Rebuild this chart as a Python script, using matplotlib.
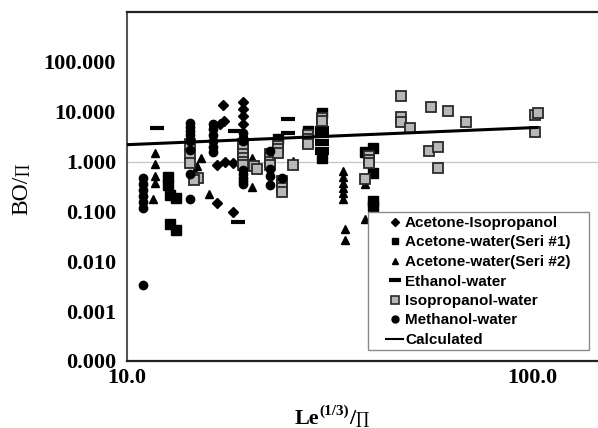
import matplotlib
matplotlib.use("Agg")
import matplotlib.pyplot as plt
from matplotlib.lines import Line2D
from matplotlib.patches import Rectangle

# ---- data -----------------------------------------------------------------
acet_iso_x = [17.3, 17.0, 17.4, 19.3, 19.3, 19.3, 19.3, 16.7, 17.5, 18.3, 16.7, 18.3]
acet_iso_y = [13.7, 5.6, 6.4, 15.5, 11.3, 8.2, 5.6, 0.87, 1.0, 0.95, 0.15, 0.097]

acet_w1_x = [12.6, 12.6, 12.8, 13.2, 12.8, 13.2, 23.6, 28.0, 30.3, 30.3,
             40.5, 38.7, 40.5, 40.5, 40.5]
acet_w1_y = [0.50, 0.34, 0.21, 0.19, 0.055, 0.043, 2.8, 4.06, 9.4, 1.2,
             1.9, 1.55, 0.6, 0.16, 0.13]

acet_w2_x = [11.7, 11.7, 11.7, 11.7, 11.6, 15.2, 14.9, 14.7, 15.9, 20.3, 20.3,
             25.7, 34.1, 34.1, 34.1, 34.1, 34.1, 34.1, 34.5, 34.5, 38.7, 38.7]
acet_w2_y = [1.5, 0.91, 0.52, 0.38, 0.18, 1.2, 0.8, 0.62, 0.22, 1.2, 0.31,
             1.05, 0.65, 0.48, 0.37, 0.30, 0.23, 0.18, 0.045, 0.027, 0.36, 0.072]

eth_x = [11.86, 18.5, 18.8, 25.0, 25.0, 30.3, 30.3, 30.3, 30.3, 30.3, 30.3, 30.3]
eth_y = [4.66, 4.06, 0.061, 7.1, 3.7, 4.7, 3.9, 3.2, 2.6, 2.2, 1.8, 1.5]

iso_x = [47.5, 47.5, 47.5, 50.0, 56.4, 62.1, 68.8, 55.7, 58.6, 58.6, 101.5, 103.5, 102.0,
         14.3, 14.3, 14.3, 15.0, 14.6,
         19.3, 19.3, 19.3, 19.3, 19.3, 19.3, 20.6, 21.0,
         22.5, 22.5, 22.5, 22.5, 24.2, 24.2, 24.2, 24.2,
         23.6, 23.6, 23.6, 28.0, 28.0, 28.0, 28.0, 25.7,
         30.3, 30.3, 39.5, 39.5, 39.5, 38.7]
iso_y = [20.5, 7.8, 6.2, 4.7, 12.5, 10.3, 6.2, 1.6, 1.92, 0.76, 8.4, 9.5, 3.9,
         2.3, 1.45, 0.95, 0.46, 0.42,
         2.2, 1.8, 1.45, 1.2, 1.0, 0.85, 0.8, 0.72,
         1.4, 1.2, 1.0, 0.85, 0.40, 0.34, 0.29, 0.25,
         2.1, 1.75, 1.5, 3.4, 2.9, 2.5, 2.2, 0.86,
         7.5, 6.5, 1.3, 1.1, 0.95, 0.45]

meth_x = [10.95] * 7 + [14.3] * 8 + [16.3] * 6 + [19.3] * 8 + [22.5] * 4 + [24.2]
meth_y = [0.47, 0.36, 0.27, 0.20, 0.155, 0.117, 0.0034,
          5.9, 4.9, 4.1, 3.4, 2.6, 1.7, 0.57, 0.18,
          5.6, 4.4, 3.4, 2.6, 2.0, 1.55,
          3.7, 3.0, 2.6, 0.68, 0.56, 0.46, 0.40, 0.35,
          1.65, 0.72, 0.52, 0.34,
          0.47]

calc_x = [10.0, 103.0]
calc_y = [2.18, 4.83]

ref_level = 1.0

y_ticks = [1e-4, 1e-3, 1e-2, 1e-1, 1, 10, 100]
y_tick_labels = ["0.000", "0.001", "0.010", "0.100", "1.000", "10.000", "100.000"]
x_ticks = [10, 100]
x_tick_labels = ["10.0", "100.0"]

# ---- figure ----------------------------------------------------------------
W, H = 598, 428
fig = plt.figure(figsize=(W / 100, H / 100), dpi=100)
left_px, right_px, top_px, bottom_px = 127, 598, 12, 361
ax = fig.add_axes([left_px / W, 1 - bottom_px / H,
                   (right_px - left_px) / W, (bottom_px - top_px) / H])
ax.set_xscale("log")
ax.set_yscale("log")
ax.set_xlim(10, 145.6)
ax.set_ylim(1e-4, 1000)

ax.axhline(ref_level, color="#c8c8c8", lw=1.0, zorder=1)

ax.plot(acet_iso_x, acet_iso_y, ls="none", marker="D", ms=5, color="black", zorder=3)
ax.plot(acet_w1_x, acet_w1_y, ls="none", marker="s", ms=6.5, color="black", zorder=3)
ax.plot(acet_w2_x, acet_w2_y, ls="none", marker="^", ms=6, color="black", zorder=3)
ax.plot(eth_x, eth_y, ls="none", marker="_", ms=10, mew=3, color="black", zorder=3)
ax.plot(iso_x, iso_y, ls="none", marker="s", ms=7, mfc="#b8b8b8", mec="#2a2a2a",
        mew=1.3, zorder=3)
ax.plot(meth_x, meth_y, ls="none", marker="o", ms=6, color="black", zorder=3)
ax.plot(calc_x, calc_y, color="black", lw=2.2, zorder=4)

serif = ["Liberation Serif", "DejaVu Serif"]
ax.set_yticks(y_ticks)
ax.set_yticklabels(y_tick_labels, fontfamily=serif, fontweight="bold", fontsize=16)
ax.set_xticks(x_ticks)
ax.set_xticklabels(x_tick_labels, fontfamily=serif, fontweight="bold", fontsize=16)
ax.minorticks_off()
ax.tick_params(axis="both", length=0)
ax.tick_params(axis="y", pad=8)
ax.tick_params(axis="x", pad=5)

ax.spines["right"].set_visible(False)
ax.spines["left"].set_color("#555555")
ax.spines["left"].set_linewidth(1.5)
for s in ("top", "bottom"):
    ax.spines[s].set_color("#222222")
    ax.spines[s].set_linewidth(1.6)

# y-axis title: "BO/" plus a smaller product sign above it
fig.text(22 / W, 1 - 176 / H, "BO/", rotation=90, ha="center", va="top",
         fontfamily=serif, fontsize=17)
fig.text(23 / W, 1 - 176 / H, "\u220f", rotation=90, ha="center", va="bottom",
         fontfamily=["DejaVu Serif"], fontsize=11)

# x-axis title built from pieces so the superscript and product sign sit right
base_y = 1 - 424 / H
t1 = fig.text(295 / W, base_y, "Le", ha="left", va="baseline",
              fontfamily=serif, fontweight="bold", fontsize=16)
fig.canvas.draw()
r = fig.canvas.get_renderer()
bb = t1.get_window_extent(r)
t2 = fig.text(bb.x1 / W, base_y + 9 / H, "(1/3)", ha="left", va="baseline",
              fontfamily=serif, fontweight="bold", fontsize=11)
bb = t2.get_window_extent(r)
t3 = fig.text(bb.x1 / W, base_y, "/", ha="left", va="baseline",
              fontfamily=serif, fontweight="bold", fontsize=16)
bb = t3.get_window_extent(r)
fig.text(bb.x1 / W, base_y, "\u220f", ha="left", va="baseline",
         fontfamily=["DejaVu Serif"], fontsize=12)

# legend box
fig.add_artist(Rectangle((368 / W, 1 - 350 / H), 221 / W, 138 / H,
                         transform=fig.transFigure, fill=True, facecolor="white",
                         edgecolor="#8a8a8a", lw=1.0, zorder=5))

handles = [
    Line2D([], [], ls="none", marker="D", ms=4, color="black"),
    Line2D([], [], ls="none", marker="s", ms=5, color="black"),
    Line2D([], [], ls="none", marker="^", ms=5, color="black"),
    Line2D([], [], ls="none", marker="_", ms=8, mew=3, color="black"),
    Line2D([], [], ls="none", marker="s", ms=5.5, mfc="#b8b8b8", mec="#2a2a2a", mew=1.2),
    Line2D([], [], ls="none", marker="o", ms=5, color="black"),
    Line2D([], [], color="black", lw=1.5),
]
labels = ["Acetone-Isopropanol", "Acetone-water(Seri #1)", "Acetone-water(Seri #2)",
          "Ethanol-water", "Isopropanol-water", "Methanol-water", "Calculated"]
leg = fig.legend(handles, labels, loc="upper left",
                 bbox_to_anchor=(386 / W, 1 - 216 / H),
                 bbox_transform=fig.transFigure,
                 prop={"family": "Liberation Sans", "weight": "bold", "size": 11},
                 frameon=False, handlelength=1.12, handletextpad=0.13,
                 labelspacing=0.36, borderpad=0, borderaxespad=0)
leg.set_zorder(6)

fig.savefig("out.png", dpi=100)
